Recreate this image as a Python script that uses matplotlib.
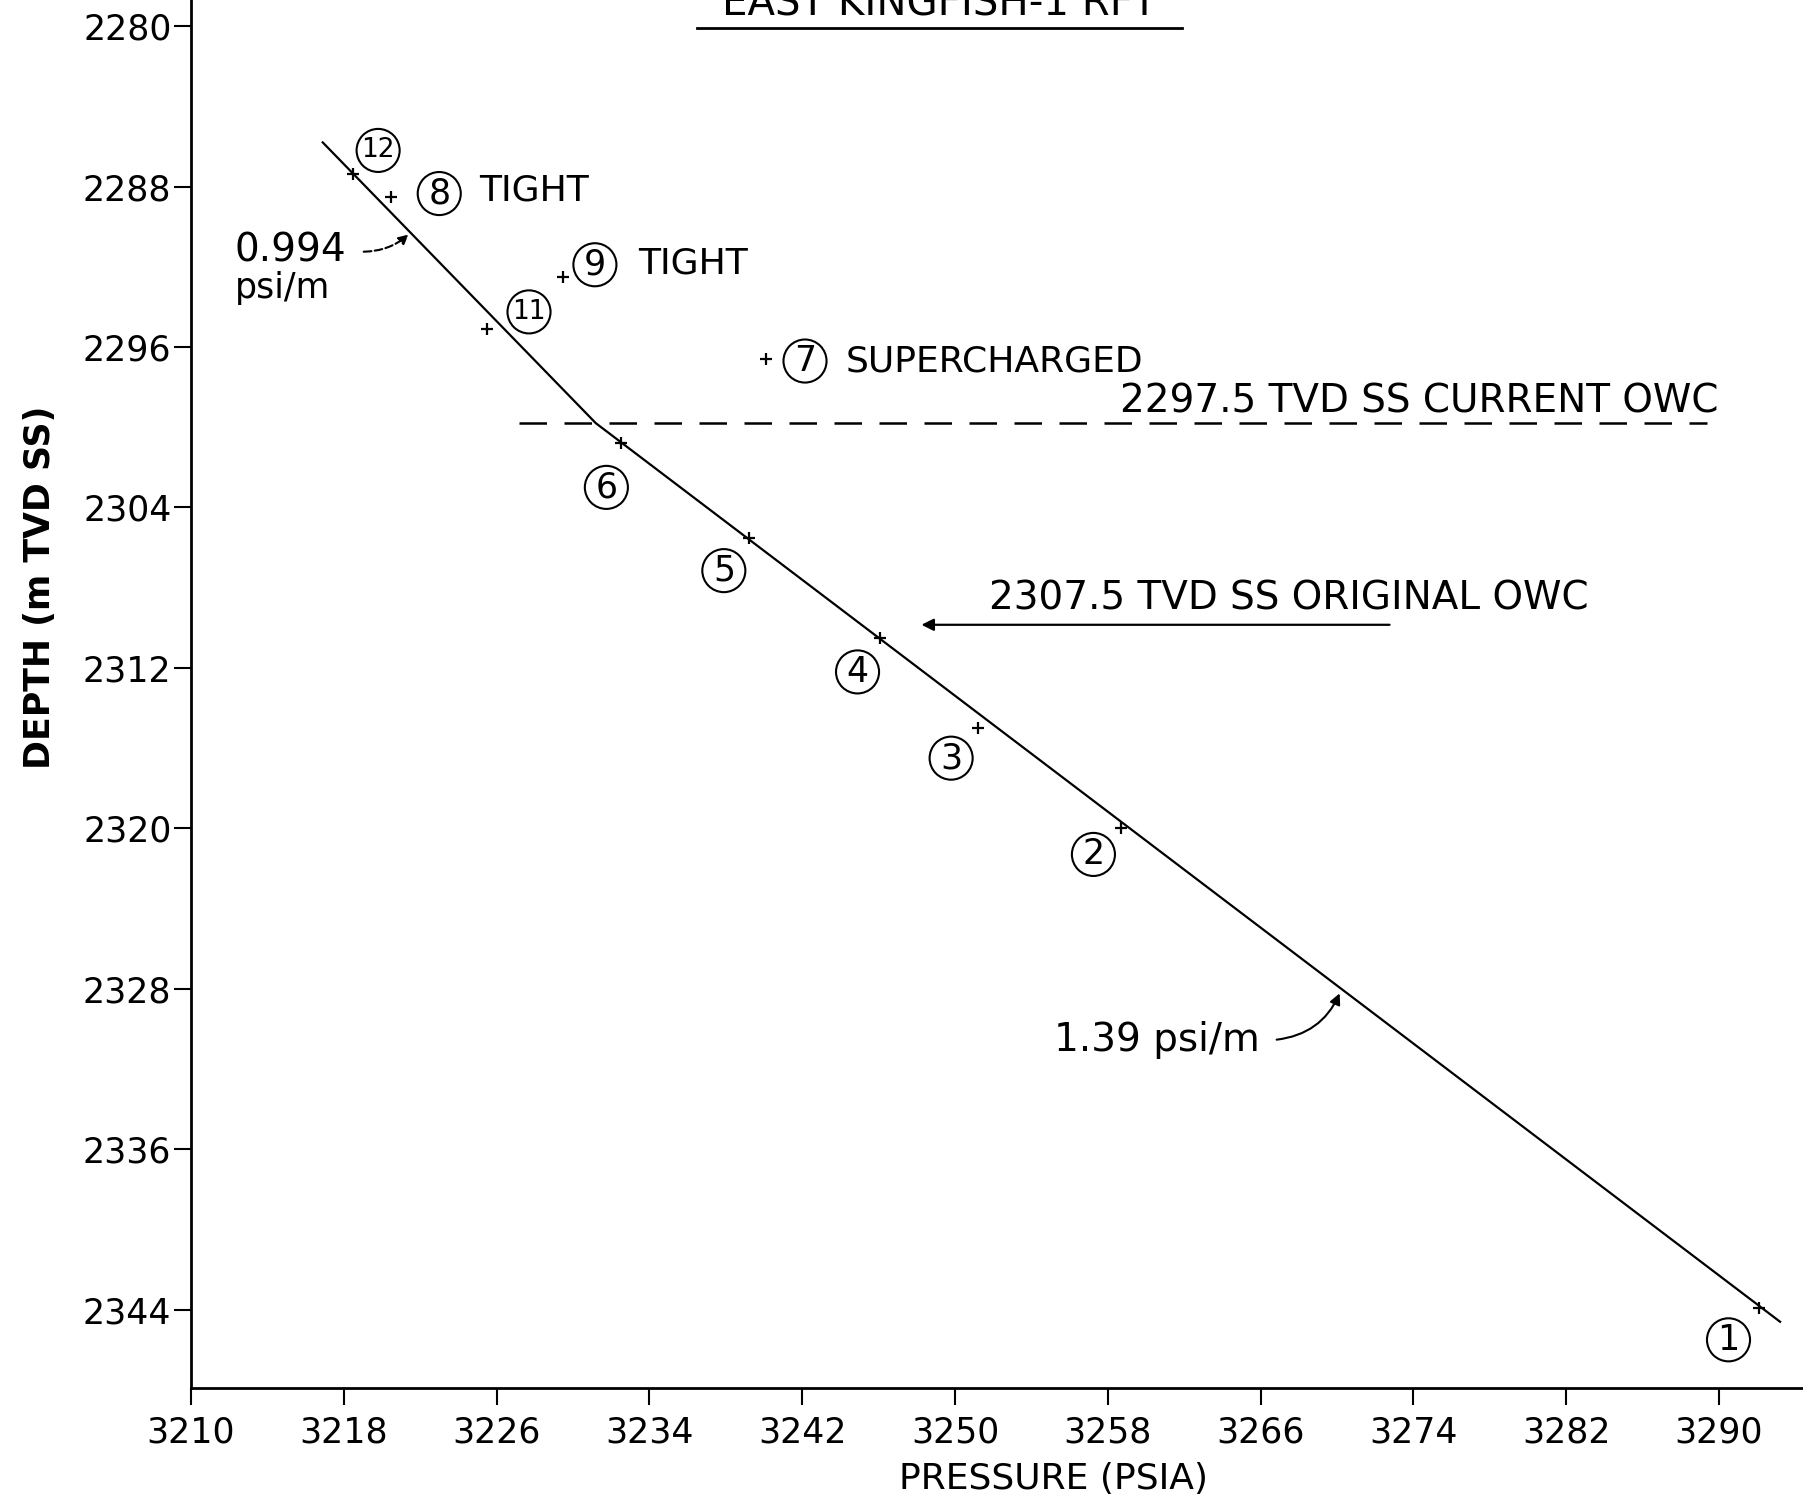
import matplotlib
matplotlib.use("Agg")
import matplotlib.pyplot as plt

# ---- data ----
point_ids = ["12", "8", "9", "11", "7", "6", "5", "4", "3", "2", "1"]
pressure = [3218.5, 3220.5, 3229.5, 3225.5, 3240.1, 3232.5, 3239.2, 3246.1, 3251.2, 3258.7, 3292.1]
depth = [2287.4, 2288.5, 2292.5, 2295.1, 2296.6, 2300.8, 2305.5, 2310.5, 2315.0, 2320.0, 2343.9]

# circled-number label positions
label_p = [3219.8, 3223.0, 3231.15, 3227.7, 3242.15, 3231.75, 3237.9, 3244.9, 3249.8, 3257.25, 3290.5]
label_d = [2286.2, 2288.35, 2291.9, 2294.25, 2296.7, 2303.0, 2307.15, 2312.2, 2316.5, 2321.3, 2345.5]

# remark texts after some labels
remark_ids = ["8", "9", "7"]
remark_text = ["TIGHT", "TIGHT", "SUPERCHARGED"]
remark_p = [3225.1, 3233.4, 3244.3]
remark_d = [2288.2, 2291.85, 2296.7]

# gradient line vertices
grad_p = [3216.9, 3231.2, 3293.2]
grad_d = [2285.8, 2299.8, 2344.6]

# current OWC dashed line
owc_cur_p = [3227.2, 3289.4]
owc_cur_d = 2299.8
# original OWC arrow
owc_orig_p = [3272.9, 3248.1]
owc_orig_d = 2309.85

x_ticks = [3210, 3218, 3226, 3234, 3242, 3250, 3258, 3266, 3274, 3282, 3290]
y_ticks = [2280, 2288, 2296, 2304, 2312, 2320, 2328, 2336, 2344]

fig = plt.figure(figsize=(18.03, 14.95), dpi=100)
ax = fig.add_axes([0.1059, 0.0716, 0.8941, 0.9284])
ax.set_xlim(3210, 3294.4)
ax.set_ylim(2347.9, 2278.7)

for s in ["top", "right"]:
    ax.spines[s].set_visible(False)
for s in ["left", "bottom"]:
    ax.spines[s].set_linewidth(2.0)

ax.set_xticks(x_ticks)
ax.set_yticks(y_ticks)
ax.tick_params(axis="both", direction="out", length=12, width=1.5, labelsize=25)
ax.tick_params(axis="x", pad=8)
ax.tick_params(axis="y", pad=2)
ax.set_xlabel("PRESSURE (PSIA)", fontsize=26, va="center")
ax.set_ylabel("DEPTH (m TVD SS)", fontsize=25, fontweight="bold", va="center")
ax.xaxis.set_label_coords(0.535, -0.0655)
ax.yaxis.set_label_coords(-0.0937, 0.577)

# gradient line
ax.plot(grad_p, grad_d, color="black", lw=1.6)
# data points
ax.plot(pressure, depth, linestyle="none", marker="+", color="black", markersize=9, mew=1.6)

# circled numbers
ax.scatter(label_p, label_d, s=31**2, facecolors="none", edgecolors="black", linewidths=1.5, zorder=3)
for pid, lp, ld in zip(point_ids, label_p, label_d):
    fs = 25 if len(pid) == 1 else 19
    ax.text(lp, ld, pid, ha="center", va="center", fontsize=fs, zorder=4)

for rid, rt, rp, rd in zip(remark_ids, remark_text, remark_p, remark_d):
    ax.text(rp, rd, rt, ha="left", va="center", fontsize=26)

# current OWC
ax.plot(owc_cur_p, [owc_cur_d, owc_cur_d], color="black", lw=1.8, dashes=(11, 7))
ax.text(3290.0, 2298.7, "2297.5 TVD SS CURRENT OWC", ha="right", va="center", fontsize=28)

# original OWC
ax.annotate("", xy=(owc_orig_p[1], owc_orig_d), xytext=(owc_orig_p[0], owc_orig_d),
            arrowprops=dict(arrowstyle="-|>", color="black", lw=1.6, mutation_scale=18))
ax.text(3251.8, 2308.55, "2307.5 TVD SS ORIGINAL OWC", ha="left", va="center", fontsize=28)

# gradient annotations
ax.text(3212.3, 2291.2, "0.994", ha="left", va="center", fontsize=28)
ax.text(3212.3, 2293.05, "psi/m", ha="left", va="center", fontsize=25)
ax.annotate("", xy=(3221.5, 2290.3), xytext=(3218.9, 2291.25),
            arrowprops=dict(arrowstyle="-|>", color="black", lw=1.5, linestyle="--",
                            connectionstyle="arc3,rad=0.2", mutation_scale=14))

ax.text(3255.2, 2330.55, "1.39 psi/m", ha="left", va="center", fontsize=28)
ax.annotate("", xy=(3270.2, 2328.1), xytext=(3266.7, 2330.55),
            arrowprops=dict(arrowstyle="-|>", color="black", lw=1.5,
                            connectionstyle="arc3,rad=0.3", mutation_scale=16))

# title (partly cut by the top edge in the original)
ax.text(3249.2, 2279.9, "EAST KINGFISH-1 RFT", ha="center", va="bottom", fontsize=29,
        clip_on=False)
ax.plot([3236.5, 3261.9], [2280.1, 2280.1], color="black", lw=2.0, clip_on=False)

fig.savefig("out.png", dpi=100)
